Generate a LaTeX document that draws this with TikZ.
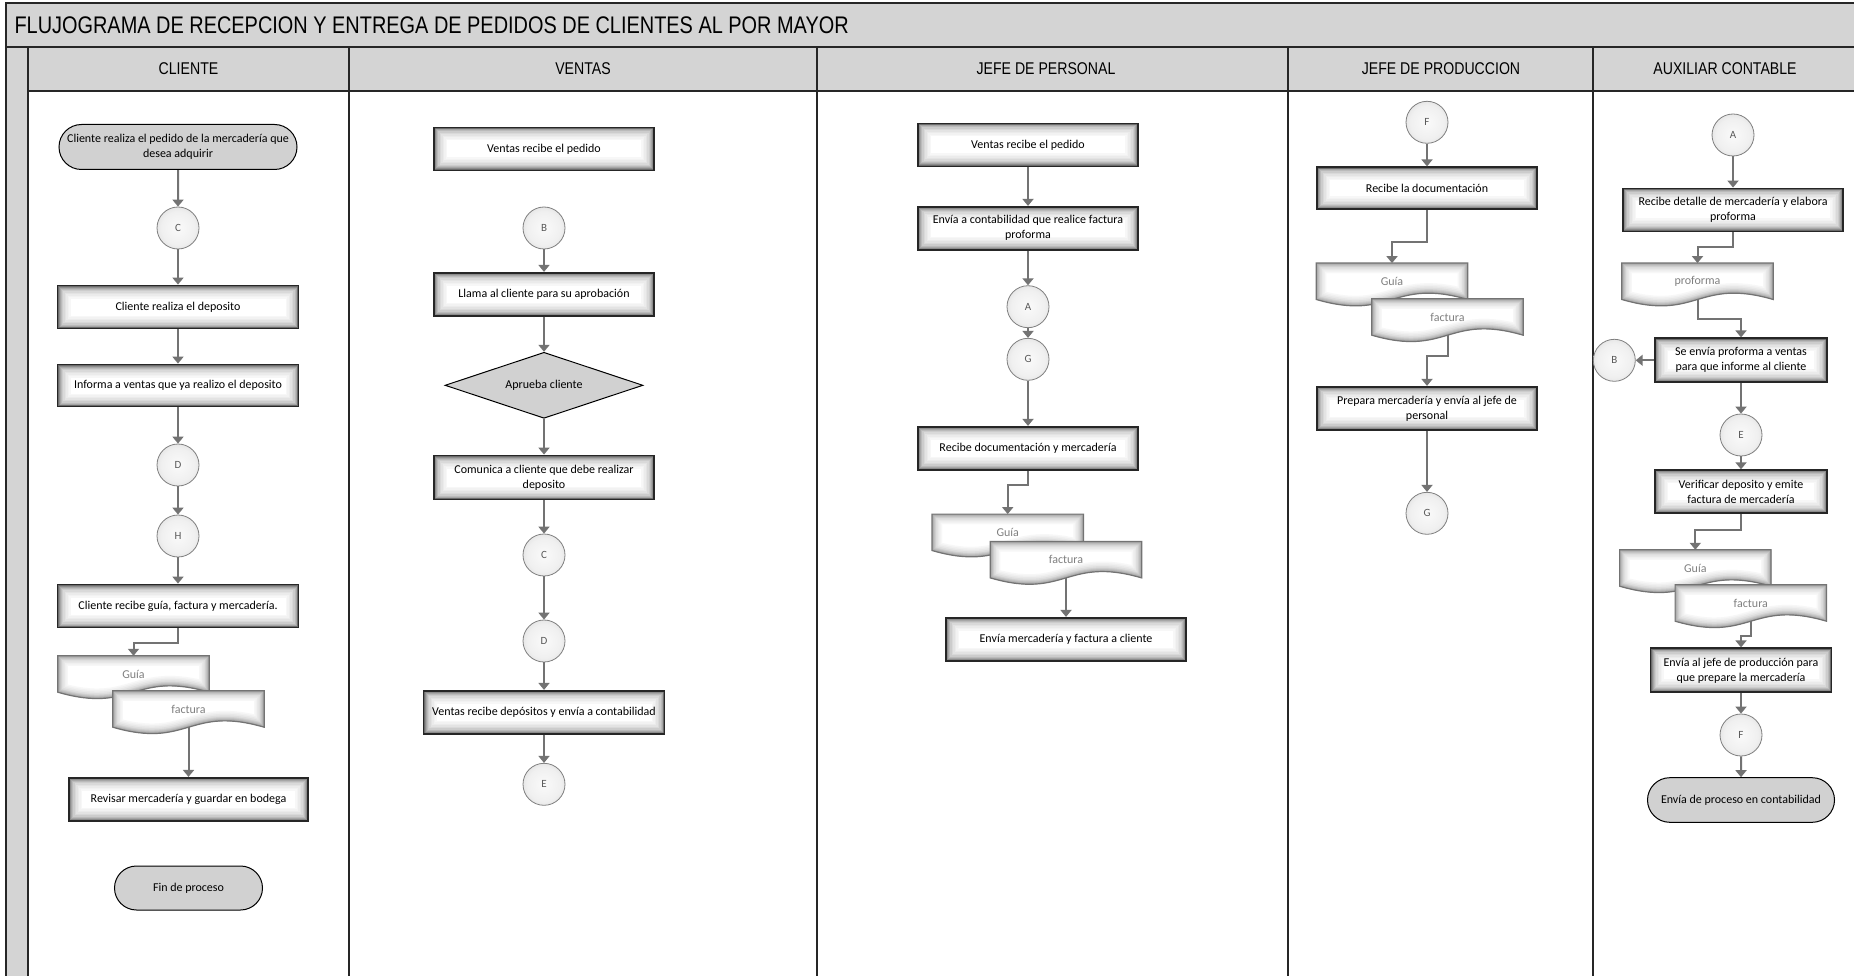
\documentclass[tikz,border=0pt]{standalone}
\usepackage{fontspec}
\setmainfont{Carlito}
\newfontfamily\headf[FakeStretch=0.83]{Liberation Sans}
\usetikzlibrary{arrows.meta,shapes.geometric,shapes.misc,calc}
\pgfdeclareradialshading{connshade}{\pgfpoint{0bp}{0bp}}{color(0bp)=(black!2); color(20bp)=(black!6); color(32bp)=(black!14); color(42bp)=(black!30); color(50bp)=(black!50)}
\newcommand\procglow{%
  \foreach \w/\c in {26/3,23/5,20/8,17/11,14/15,11/20,8/27,6/35,4/45,2.5/58}{%
    \draw[line width=\w pt, black!\c] (path picture bounding box.south west) rectangle (path picture bounding box.north east);}%
}
\newcommand\docpath[1]{(#1.north west) -- (#1.north east) -- (#1.south east) .. controls ($(#1.south)+(0,-22)$) and ($(#1.south)+(0,22)$) .. (#1.south west) -- cycle}
\newcommand\docdraw[2]{%
  \begin{scope}
    \clip \docpath{#1};
    \fill[white] ($(#1.north west)+(-5,-5)$) rectangle ($(#1.south east)+(5,30)$);
    \foreach \w/\c in {20/3,17/6,14/9,11/13,8/18,6/23,4/29,2/35}{%
      \draw[line width=\w pt, black!\c] \docpath{#1};}
  \end{scope}
  \draw[black!55, line width=1.2pt] \docpath{#1};
  \node[doctext] (#1t) at (#1) {#2};
}
\begin{document}
\begin{tikzpicture}[x=1pt,y=-1pt,
  hdr/.style={fill=black!17},
  frame/.style={draw=black!85, line width=1.6pt},
  body/.style={font=\fontsize{12}{15}\selectfont},
  proc/.style={rectangle, draw=black!85, line width=1.8pt, fill=white, inner sep=0pt, align=center, body, path picture={\procglow}},
  term/.style={rounded rectangle, draw=black, line width=1pt, fill=black!18, inner sep=0pt, align=center, body},
  dec/.style={diamond, aspect=3, draw=black, line width=1pt, fill=black!18, inner sep=0pt, minimum width=198pt, minimum height=66pt, align=center, body},
  conn/.style={circle, minimum size=42pt, inner sep=0pt, draw=black!50, line width=0.8pt, shade, shading=connshade, text=black!65, font=\fontsize{11}{13}\selectfont},
  docbox/.style={rectangle, inner sep=0pt, minimum width=151pt, minimum height=36pt},
  doctext/.style={text=black!50, body, inner sep=0pt},
  hdtext/.style={font=\headf\fontsize{17}{20}\selectfont, text=black},
  arr/.style={draw=black!55, line width=2pt, -{Triangle[width=11pt,length=7pt]}}
]
\useasboundingbox (0,0) rectangle (1854,976);
% ---------- frame ----------
\fill[white] (0,0) rectangle (1854,976);
\fill[hdr] (6,3) rectangle (1856,47);
\fill[hdr] (6,47) rectangle (28,976);
\fill[hdr] (28,47) rectangle (1856,91);
\draw[frame] (1856,3) -- (6,3) -- (6,976);
\draw[frame] (6,47) -- (1856,47);
\draw[frame] (28,91) -- (1856,91);
\foreach \x in {28,349,817,1288,1593} \draw[frame] (\x,47) -- (\x,976);
\node[anchor=west, font=\headf\fontsize{24}{28}\selectfont] (title) at (11,25) {FLUJOGRAMA DE RECEPCION Y ENTREGA DE PEDIDOS DE CLIENTES AL POR MAYOR};
\node[hdtext] (h1) at (188.5,69) {CLIENTE};
\node[hdtext] (h2) at (583,69) {VENTAS};
\node[hdtext] (h3) at (1046,69) {JEFE DE PERSONAL};
\node[hdtext] (h4) at (1441,69) {JEFE DE PRODUCCION};
\node[hdtext] (h5) at (1725,69) {AUXILIAR CONTABLE};

% ---------- CLIENTE ----------
\node[term, minimum width=238pt, minimum height=45pt] (t1) at (178,147) {Cliente realiza el pedido de la mercadería que\\desea adquirir};
\node[conn] (c1) at (178,228) {C};
\node[proc, minimum width=241pt, minimum height=43pt] (p1) at (178,307) {Cliente realiza el deposito};
\node[proc, minimum width=241pt, minimum height=42pt] (p2) at (178,385.5) {Informa a ventas que ya realizo el deposito};
\node[conn] (d1) at (178,465) {D};
\node[conn] (hh1) at (178,536) {H};
\node[proc, minimum width=241pt, minimum height=43pt] (p3) at (178,606) {Cliente recibe guía, factura y mercadería.};
\node[docbox] (cg) at (133.5,674) {};
\docdraw{cg}{Guía}
\node[docbox] (cf) at (188.5,709) {};
\docdraw{cf}{factura}
\node[proc, minimum width=239pt, minimum height=43pt] (p4) at (188.5,799.3) {Revisar mercadería y guardar en bodega};
\node[term, minimum width=148pt, minimum height=44pt] (fin) at (188.5,888) {Fin de proceso};

\draw[arr] (t1) -- (c1);
\draw[arr] (c1) -- (p1);
\draw[arr] (p1) -- (p2);
\draw[arr] (p2) -- (d1);
\draw[arr] (d1) -- (hh1);
\draw[arr] (hh1) -- (p3);
\draw[arr] (p3.south) -- ++(0,15) -| (cg.north);
\draw[arr] (cf.south) -- (p4.north);

% ---------- VENTAS ----------
\node[proc, minimum width=220pt, minimum height=43pt] (v1) at (544,149) {Ventas recibe el pedido};
\node[conn] (vb) at (544,228) {B};
\node[proc, minimum width=220pt, minimum height=43pt] (v2) at (544,294.3) {Llama al cliente para su aprobación};
\node[dec] (vd) at (544,385.3) {Aprueba cliente};
\node[proc, minimum width=220pt, minimum height=44pt] (v3) at (544,477.5) {Comunica a cliente que debe realizar\\deposito};
\node[conn] (vc) at (544,555) {C};
\node[conn] (vdd) at (544,641) {D};
\node[proc, minimum width=241pt, minimum height=43pt] (v4) at (544,712.3) {Ventas recibe depósitos y envía a contabilidad};
\node[conn] (ve) at (544,784.3) {E};

\draw[arr] (vb) -- (v2);
\draw[arr] (v2) -- (vd);
\draw[arr] (vd) -- (v3);
\draw[arr] (v3) -- (vc);
\draw[arr] (vc) -- (vdd);
\draw[arr] (vdd) -- (v4);
\draw[arr] (v4) -- (ve);

% ---------- JEFE DE PERSONAL ----------
\node[proc, minimum width=220pt, minimum height=43pt] (j1) at (1028,145) {Ventas recibe el pedido};
\node[proc, minimum width=220pt, minimum height=43pt] (j2) at (1028,228.3) {Envía a contabilidad que realice factura\\proforma};
\node[conn] (ja) at (1028,306.7) {A};
\node[conn] (jgg) at (1028,359.3) {G};
\node[proc, minimum width=220pt, minimum height=43pt] (j3) at (1028,448.3) {Recibe documentación y mercadería};
\node[docbox] (jg) at (1007.7,532.3) {};
\docdraw{jg}{Guía}
\node[docbox] (jf) at (1066,559.7) {};
\docdraw{jf}{factura}
\node[proc, minimum width=240pt, minimum height=43pt] (j4) at (1066,639.3) {Envía mercadería y factura a cliente};

\draw[arr] (j1) -- (j2);
\draw[arr] (j2) -- (ja);
\draw[arr] (ja) -- (jgg);
\draw[arr] (jgg) -- (j3);
\draw[arr] (j3.south) -- ++(0,14) -| (jg.north);
\draw[arr] (jf.south) -- (j4.north);

% ---------- JEFE DE PRODUCCION ----------
\node[conn] (rf) at (1427,122.3) {F};
\node[proc, minimum width=220pt, minimum height=42pt] (r1) at (1427,188.3) {Recibe la documentación};
\node[docbox] (rg) at (1392,281.3) {};
\docdraw{rg}{Guía}
\node[docbox] (rfa) at (1447.5,317) {};
\docdraw{rfa}{factura}
\node[proc, minimum width=220pt, minimum height=43pt] (r2) at (1427,408.3) {Prepara mercadería y envía al jefe de\\personal};
\node[conn] (rgg) at (1427,513.3) {G};

\draw[arr] (rf) -- (r1);
\draw[arr] (r1.south) -- ++(0,32) -| (rg.north);
\draw[arr] (rfa.south) -- ++(0,21) -| (r2.north);
\draw[arr] (r2) -- (rgg);

% ---------- AUXILIAR CONTABLE ----------
\node[conn] (xa) at (1733,135) {A};
\node[proc, minimum width=220pt, minimum height=43pt] (x1) at (1733,210) {Recibe detalle de mercadería y elabora\\proforma};
\node[docbox] (xp) at (1697.5,281.3) {};
\docdraw{xp}{proforma}
\node[proc, minimum width=172pt, minimum height=44pt] (x2) at (1741,360.3) {Se envía proforma a ventas\\para que informe al cliente};
\node[conn] (xb) at (1614.3,360.3) {B};
\node[conn] (xe) at (1741,435) {E};
\node[proc, minimum width=172pt, minimum height=43pt] (x3) at (1741,491.7) {Verificar deposito y emite\\factura de mercadería};
\node[docbox] (xg) at (1695.3,568) {};
\docdraw{xg}{Guía}
\node[docbox] (xf) at (1750.8,603) {};
\docdraw{xf}{factura}
\node[proc, minimum width=181pt, minimum height=44pt] (x4) at (1741,670.3) {Envía al jefe de producción para\\que prepare la mercadería};
\node[conn] (xff) at (1741,735) {F};
\node[term, minimum width=187pt, minimum height=44.6pt] (xt) at (1741,800) {Envía de proceso en contabilidad};

\draw[arr] (xa) -- (x1);
\draw[arr] (x1.south) -- ++(0,15) -| (xp.north);
\draw[arr] (xp.south) -- ++(0,19) -| (x2.north);
\draw[arr] (x2) -- (xb);
\draw[arr] (x2) -- (xe);
\draw[arr] (xe) -- (x3);
\draw[arr] (x3.south) -- ++(0,16) -| (xg.north);
\draw[arr] (xf.south) -- ++(0,15) -| (x4.north);
\draw[arr] (x4) -- (xff);
\draw[arr] (xff) -- (xt);
\end{tikzpicture}
\end{document}
